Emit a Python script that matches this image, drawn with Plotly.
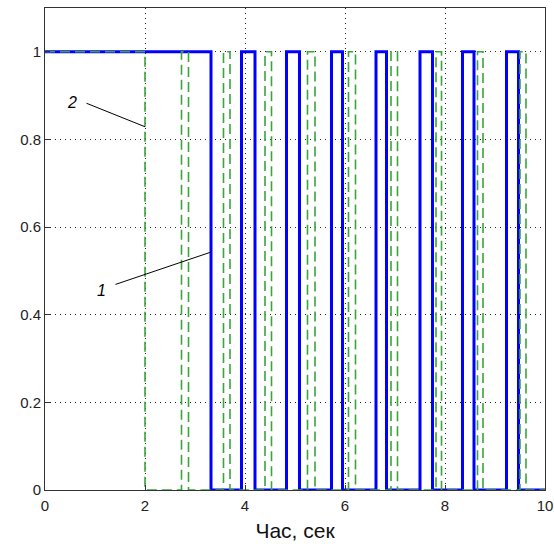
import plotly.graph_objects as go

# Signal 1 (blue, solid): switching times and levels (step, hold-value)
blue_t = [0, 3.32, 3.93, 4.20, 4.83, 5.09, 5.73, 5.95, 6.62, 6.83, 7.50, 7.75, 8.35, 8.58, 9.23, 9.47, 10]
blue_v = [1, 0, 1, 0, 1, 0, 1, 0, 1, 0, 1, 0, 1, 0, 1, 0, 0]

# Signal 2 (green, dashed)
green_t = [0, 2.00, 2.73, 2.87, 3.57, 3.70, 4.40, 4.53, 5.25, 5.40, 6.07, 6.21,
           6.92, 7.05, 7.82, 7.93, 8.65, 8.76, 9.50, 9.62, 10]
green_v = [1, 0, 1, 0, 1, 0, 1, 0, 1, 0, 1, 0, 1, 0, 1, 0, 1, 0, 1, 0, 0]

x_ticks = [0, 2, 4, 6, 8, 10]
y_ticks = [0, 0.2, 0.4, 0.6, 0.8, 1]
y_tick_text = ["0", "0.2", "0.4", "0.6", "0.8", "1"]

fig = go.Figure()
fig.add_trace(go.Scatter(x=blue_t, y=blue_v, mode="lines", line_shape="hv",
                         line=dict(color="#0000ff", width=3), showlegend=False))
fig.add_trace(go.Scatter(x=green_t, y=green_v, mode="lines", line_shape="hv",
                         line=dict(color="#3aa53a", width=1.6, dash="10px,5px"),
                         showlegend=False))

fam = "Liberation Sans, Arial, sans-serif"
font = dict(family=fam, size=15, color="#222")

fig.update_layout(
    width=554, height=553,
    margin=dict(l=45, r=9, t=8, b=63),
    paper_bgcolor="white", plot_bgcolor="white",
    font=font,
    xaxis=dict(range=[0, 10], tickvals=x_ticks, showgrid=True, gridcolor="#222",
               griddash="1px,4px", gridwidth=1, zeroline=False, showline=True, mirror=True,
               linecolor="#333", linewidth=1, ticks="inside", ticklen=5, tickcolor="#333",
               automargin=False, ticklabelstandoff=2,
               title=dict(text="Час, сек", font=dict(size=21, family=fam, color="#111"),
                          standoff=10)),
    yaxis=dict(range=[0, 1.1], tickvals=y_ticks, ticktext=y_tick_text, showgrid=True,
               gridcolor="#222", griddash="1px,4px", gridwidth=1, zeroline=False, showline=True,
               mirror=True, linecolor="#333", linewidth=1, ticks="inside", ticklen=5,
               tickcolor="#333", automargin=False),
)

# leader lines and labels
fig.add_annotation(x=2.0, y=0.829, ax=0.80, ay=0.884, xref="x", yref="y", axref="x", ayref="y",
                   text="", showarrow=True, arrowhead=0, arrowwidth=1, arrowcolor="black")
fig.add_annotation(x=0.54, y=0.885, xref="x", yref="y", text="<i>2</i>", showarrow=False,
                   font=dict(size=16, color="black"))
fig.add_annotation(x=3.32, y=0.543, ax=1.38, ay=0.468, xref="x", yref="y", axref="x", ayref="y",
                   text="", showarrow=True, arrowhead=0, arrowwidth=1, arrowcolor="black")
fig.add_annotation(x=1.12, y=0.455, xref="x", yref="y", text="<i>1</i>", showarrow=False,
                   font=dict(size=16, color="black"))

# remove the browser's default body margin so the figure fills the window exactly
fig.write_html("out.html", config={"displayModeBar": False},
               post_script="document.body.style.margin='0';document.body.style.overflow='hidden';")
